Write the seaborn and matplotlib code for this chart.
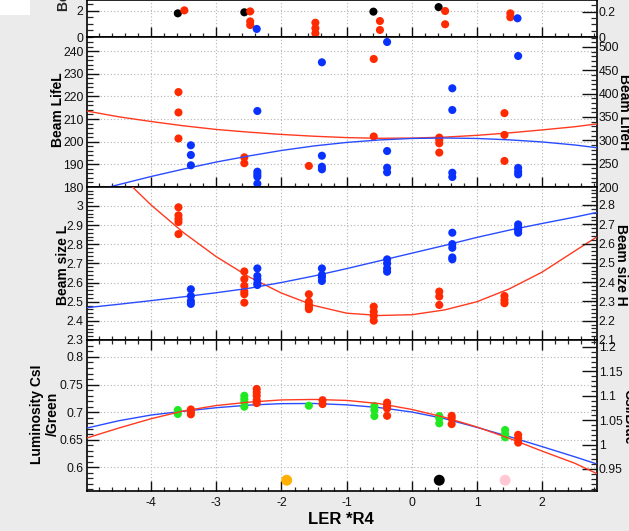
import matplotlib
matplotlib.use("Agg")
import matplotlib.pyplot as plt
import seaborn as sns
from matplotlib.ticker import MultipleLocator, FuncFormatter
from matplotlib.patches import Rectangle

# ---------------- data ----------------
# top panel (mostly cut off)
top_black_x = [-3.59, -2.57, -0.59, 0.41]
top_black_y = [1.82, 1.90, 1.95, 2.30]
top_red_x = [-3.49, -2.48, -2.48, -2.48, -1.48, -1.48, -1.48, -0.49, -0.49, 0.51, 0.51, 1.51, 1.51]
top_red_y = [2.05, 1.97, 1.20, 0.92, 1.10, 0.67, 0.28, 1.23, 0.54, 2.00, 0.98, 1.82, 1.52]
top_blue_x = [-2.38, 1.62]
top_blue_y = [0.62, 1.44]

# Beam life (L on left axis, H on right axis)
life_L_x = [-3.58, -3.58, -3.58, -2.57, -2.57, -1.58, -0.585, -0.585,
            0.42, 0.42, 0.42, 0.42, 1.42, 1.42, 1.42]
life_L_y = [221.9, 212.9, 201.4, 193.1, 190.5, 189.3, 236.5, 202.3,
            201.8, 200.8, 199.3, 195.2, 212.6, 203.0, 191.5]
life_H_x = [-3.39, -3.39, -3.39,
            -2.37, -2.37, -2.37, -2.37, -2.37,
            -1.38, -1.38, -1.38, -1.38,
            -0.38, -0.38, -0.38, -0.38,
            0.62, 0.62, 0.62, 0.62,
            1.63, 1.63, 1.63, 1.63]
life_H_y = [289.4, 268.6, 246.5,
            362.9, 232.8, 227.2, 222.0, 207.0,
            467.2, 267.0, 243.5, 237.9,
            510.7, 277.1, 241.4, 231.5,
            411.5, 365.0, 230.6, 221.4,
            480.7, 241.0, 233.0, 227.0]

# Beam size (L on left axis, H on right axis)
size_L_x = [-3.58] * 5 + [-2.57] * 6 + [-1.58] * 5 + [-0.585] * 4 + [0.42] * 3 + [1.42] * 3
size_L_y = [2.993, 2.951, 2.932, 2.916, 2.853,
            2.658, 2.618, 2.583, 2.553, 2.539, 2.495,
            2.539, 2.500, 2.483, 2.471, 2.461,
            2.474, 2.448, 2.425, 2.401,
            2.553, 2.527, 2.483,
            2.530, 2.509, 2.492]
size_H_x = [-3.39] * 4 + [-2.37] * 5 + [-1.38] * 4 + [-0.38] * 4 + [0.62] * 5 + [1.63] * 4
size_H_y = [2.363, 2.328, 2.302, 2.287,
            2.471, 2.432, 2.415, 2.394, 2.385,
            2.471, 2.437, 2.425, 2.406,
            2.518, 2.497, 2.471, 2.454,
            2.656, 2.597, 2.578, 2.528, 2.518,
            2.699, 2.682, 2.670, 2.656]

# Luminosity (CsI/Green on left axis, CsI/Blue on right axis)
lumi_G_x = [-3.59] * 2 + [-2.57] * 4 + [-1.58] + [-0.575] * 3 + [0.42] * 3 + [1.43] * 3
lumi_G_y = [0.7036, 0.6964,
            0.7296, 0.7236, 0.7176, 0.7096,
            0.7115,
            0.7110, 0.7036, 0.6927,
            0.6927, 0.6885, 0.6794,
            0.6673, 0.6600, 0.6540]
lumi_B_x = [-3.39] * 3 + [-2.38] * 5 + [-1.37] * 2 + [-0.38] * 4 + [0.61] * 3 + [1.63] * 3
lumi_B_y = [1.072, 1.067, 1.062,
            1.114, 1.107, 1.100, 1.091, 1.085,
            1.091, 1.083,
            1.086, 1.079, 1.074, 1.059,
            1.059, 1.054, 1.042,
            1.020, 1.013, 1.004]
extra_x = [-1.92, 0.42, 1.43]
extra_y = [0.576, 0.576, 0.576]
extra_colors = ["#ffb000", "#000000", "#ffc8d2"]

# fitted curves
curve_x = [-5.0, -4.5, -4.0, -3.5, -3.0, -2.5, -2.0, -1.5, -1.0, -0.5,
           0.0, 0.5, 1.0, 1.5, 2.0, 2.5, 2.85]
life_L_fit = [213.6, 211.0, 208.9, 207.0, 205.4, 204.2, 203.2, 202.4, 201.8, 201.5,
              201.6, 202.0, 202.8, 203.9, 205.2, 206.6, 207.9]
life_H_fit = [187.0, 205.0, 222.5, 238.5, 253.5, 266.5, 278.3, 288.0, 295.5, 300.8,
              304.0, 305.0, 304.0, 301.0, 296.5, 290.0, 284.0]
size_L_fit = [3.36, 3.17, 3.005, 2.86, 2.735, 2.63, 2.545, 2.48, 2.44, 2.428,
              2.432, 2.457, 2.50, 2.568, 2.655, 2.765, 2.841]
size_H_fit = [2.267, 2.285, 2.304, 2.324, 2.345, 2.368, 2.398, 2.432, 2.47, 2.51,
              2.55, 2.59, 2.632, 2.67, 2.704, 2.737, 2.762]
lumi_G_fit = [0.6704, 0.684, 0.6945, 0.7015, 0.7078, 0.7125, 0.7152, 0.7155, 0.7130, 0.708,
              0.700, 0.688, 0.672, 0.655, 0.637, 0.6185, 0.605]
lumi_B_fit = [1.0129, 1.0337, 1.053, 1.0690, 1.080, 1.087, 1.0915, 1.0925, 1.0905, 1.084,
              1.072, 1.056, 1.036, 1.0125, 0.9865, 0.9617, 0.9398]

# ---------------- style ----------------
sns.set_style("white")
plt.rcParams["font.family"] = ["Liberation Sans", "DejaVu Sans"]
plt.rcParams["axes.unicode_minus"] = False

RED = "#ff2a00"
BLUE = "#0a32ff"
GREEN = "#22e822"
RED_LINE = "#ff3a20"
BLUE_LINE = "#2a4cff"
GRID = "#b4b4b4"
W, H = 629, 531
X0, X1 = 87, 597.3
XLIM = (-4.983, 2.844)
MS = 34

fig = plt.figure(figsize=(W / 100, H / 100), dpi=100, facecolor="#ebebeb")
fig.patches.append(Rectangle((0, 1 - 15 / H), 30 / W, 15 / H, transform=fig.transFigure,
                             facecolor="white", edgecolor="none", zorder=0))

fmt = FuncFormatter(lambda v, p: f"{round(v, 6):g}")


def panel(top_px, bot_px, lylim, lmaj, lmin, rylim, rmaj, rmin, bottom_labels=False):
    ax = fig.add_axes([X0 / W, 1 - bot_px / H, (X1 - X0) / W, (bot_px - top_px) / H])
    ax.set_facecolor("white")
    ax.set_xlim(*XLIM)
    ax.set_ylim(*lylim)
    ax.xaxis.set_major_locator(MultipleLocator(1))
    ax.xaxis.set_minor_locator(MultipleLocator(0.2))
    ax.yaxis.set_major_locator(MultipleLocator(lmaj))
    ax.yaxis.set_minor_locator(MultipleLocator(lmin))
    ax.yaxis.set_major_formatter(fmt)
    ax.xaxis.set_major_formatter(fmt)
    ax.grid(True, which="major", linestyle=(0, (1, 2)), color=GRID, linewidth=0.8)
    ax.tick_params(axis="y", which="major", direction="in", length=8.5, width=1.0,
                   left=True, right=False, labelsize=8.8, pad=2.5, colors="#111111")
    ax.tick_params(axis="y", which="minor", direction="in", length=4.5, width=0.9,
                   left=True, right=False)
    ax.tick_params(axis="x", which="major", direction="in", length=7.2, width=1.0,
                   bottom=True, top=False, labelbottom=bottom_labels, labelsize=8.8,
                   pad=4.5, colors="#111111")
    ax.tick_params(axis="x", which="minor", direction="in", length=3.0, width=0.9,
                   bottom=True, top=False)
    for s in ax.spines.values():
        s.set_color("black")
        s.set_linewidth(1.2)
    tw = ax.twinx()
    tw.set_ylim(*rylim)
    tw.yaxis.set_major_locator(MultipleLocator(rmaj))
    tw.yaxis.set_minor_locator(MultipleLocator(rmin))
    tw.yaxis.set_major_formatter(fmt)
    tw.tick_params(axis="y", which="major", direction="in", length=10.5, width=1.0,
                   right=True, left=False, labelsize=8.8, pad=1.0, colors="#111111")
    tw.tick_params(axis="y", which="minor", direction="in", length=4.5, width=0.9,
                   right=True, left=False)
    for s in tw.spines.values():
        s.set_visible(False)
    return ax, tw


def pts(ax, x, y, c, s=MS):
    sns.scatterplot(x=x, y=y, ax=ax, color=c, s=s, edgecolor="none", linewidth=0,
                    legend=False, zorder=4, clip_on=True)


def curve(ax, y, c):
    sns.lineplot(x=curve_x, y=y, ax=ax, color=c, linewidth=1.0, sort=False,
                 estimator=None, legend=False, zorder=3)


# top panel
ax0, tw0 = panel(0, 37, (0, 2.846), 2, 0.5, (0, 0.2925), 0.2, 0.05)
pts(ax0, top_black_x, top_black_y, "black")
pts(ax0, top_red_x, top_red_y, RED)
pts(ax0, top_blue_x, top_blue_y, BLUE)

# beam life
ax1, tw1 = panel(37, 187, (180, 246.2), 10, 2, (200, 521.4), 50, 10)
curve(ax1, life_L_fit, RED_LINE)
curve(tw1, life_H_fit, BLUE_LINE)
pts(ax1, life_L_x, life_L_y, RED)
pts(tw1, life_H_x, life_H_y, BLUE)

# beam size
ax2, tw2 = panel(187, 340, (2.3, 3.099), 0.1, 0.02, (2.1, 2.893), 0.1, 0.02)
curve(ax2, size_L_fit, RED_LINE)
curve(tw2, size_H_fit, BLUE_LINE)
pts(ax2, size_L_x, size_L_y, RED)
pts(tw2, size_H_x, size_H_y, BLUE)

# luminosity
ax3, tw3 = panel(340, 491, (0.5564, 0.8309), 0.05, 0.01, (0.9049, 1.2143), 0.05, 0.01,
                 bottom_labels=True)
ax3.tick_params(axis="x", which="major", top=True, length=7.2)
ax3.tick_params(axis="x", which="minor", top=True, length=3.0)
curve(ax3, lumi_G_fit, BLUE_LINE)
curve(tw3, lumi_B_fit, RED_LINE)
pts(ax3, lumi_G_x, lumi_G_y, GREEN)
pts(tw3, lumi_B_x, lumi_B_y, RED)
for xx, yy, cc in zip(extra_x, extra_y, extra_colors):
    pts(ax3, [xx], [yy], cc, s=62)

for a in (ax0, ax1, ax2, ax3):
    a.set_xlabel("")
    a.set_ylabel("")
for a in (tw0, tw1, tw2, tw3):
    a.set_ylabel("")

# axis titles
def ftext(xp, yp, s, rot, size=10, **kw):
    fig.text(xp / W, 1 - yp / H, s, rotation=rot, ha="center", va="center",
             fontsize=size, fontweight="bold", color="black", **kw)

fig.text(64 / W, 1 - 11 / H, "Beam I", rotation=90, ha="center", va="bottom",
         fontsize=10, fontweight="bold")
ftext(58, 110, "Beam LifeL", 90)
ftext(63, 265, "Beam size L", 90)
ftext(45, 414, "Luminosity CsI\n/Green", 90, multialignment="center", linespacing=1.1)
ftext(624, 112, "Beam LifeH", 270)
ftext(621, 265, "Beam size H", 270)
ftext(628, 417, "CsI/Blue", 270)
ftext(341, 520, "LER *R4", 0, size=12)

fig.savefig("out.png", dpi=100, facecolor=fig.get_facecolor())
